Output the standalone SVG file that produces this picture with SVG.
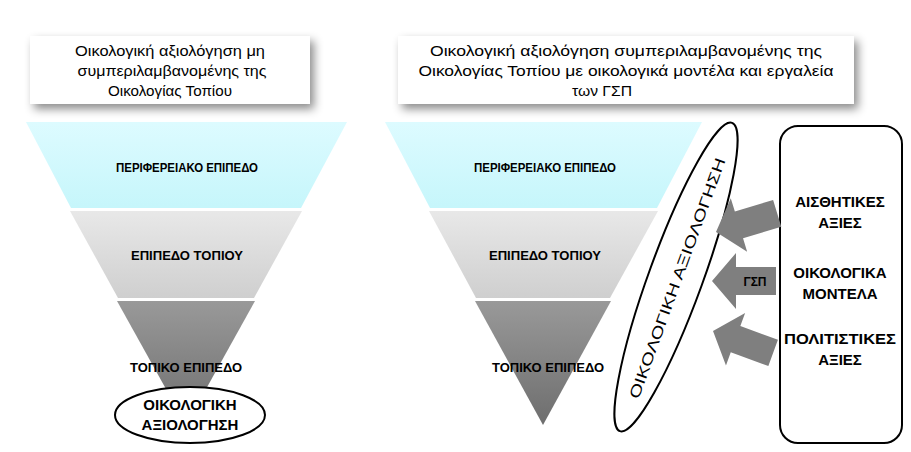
<svg xmlns="http://www.w3.org/2000/svg" width="911" height="452" viewBox="0 0 911 452">
<defs>
<linearGradient id="g1" x1="0" y1="0" x2="0" y2="1"><stop offset="0" stop-color="#ddfbff"/><stop offset="1" stop-color="#c6f6fb"/></linearGradient>
<linearGradient id="g2" x1="0" y1="0" x2="0" y2="1"><stop offset="0" stop-color="#e8e8e8"/><stop offset="1" stop-color="#cfcfcf"/></linearGradient>
<linearGradient id="g3" x1="0" y1="0" x2="0" y2="1"><stop offset="0" stop-color="#999"/><stop offset="1" stop-color="#6e6e6e"/></linearGradient>
<filter id="sh" x="-10%" y="-20%" width="130%" height="160%"><feDropShadow dx="4" dy="5" stdDeviation="5" flood-color="#000" flood-opacity="0.45"/></filter>
<g id="arrow"><polygon points="0,0 24,-28 24,-14 64,-14 64,14 24,14 24,28" fill="#7f7f7f"/></g>
</defs>
<style>
text{font-family:"Liberation Sans",Arial,sans-serif;fill:#000;text-anchor:middle}
.t{font-size:15px}
.b{font-size:13px;font-weight:bold}
.c{font-size:15px;font-weight:bold}
.box{fill:#fff;filter:url(#sh)}
.ln{fill:#fff;stroke:#000;stroke-width:2}
</style>
<rect width="911" height="452" fill="#fff"/>
<g id="box-left"><rect class="box" x="30" y="36" width="280" height="68"/>
<text class="t" x="170" y="56" textLength="190" lengthAdjust="spacingAndGlyphs">Οικολογική αξιολόγηση μη</text>
<text class="t" x="172" y="76" textLength="189" lengthAdjust="spacingAndGlyphs">συμπεριλαμβανομένης της</text>
<text class="t" x="170" y="96" textLength="124" lengthAdjust="spacingAndGlyphs">Οικολογίας Τοπίου</text></g>
<g id="box-right"><rect class="box" x="398" y="36" width="456" height="68"/>
<text class="t" x="626" y="56" textLength="392" lengthAdjust="spacingAndGlyphs">Οικολογική αξιολόγηση συμπεριλαμβανομένης της</text>
<text class="t" x="626" y="76" textLength="415" lengthAdjust="spacingAndGlyphs">Οικολογίας Τοπίου με οικολογικά μοντέλα και εργαλεία</text>
<text class="t" x="602" y="96" textLength="60" lengthAdjust="spacingAndGlyphs">των ΓΣΠ</text></g>
<g id="funnel-left">
<polygon points="26,122 347,122 301,208 71,208" fill="url(#g1)"/>
<polygon points="70,211 302,211 254,298 118,298" fill="url(#g2)"/>
<polygon points="117,301 255,301 186,425" fill="url(#g3)"/>
<text class="b" x="187" y="172" textLength="142" lengthAdjust="spacingAndGlyphs">ΠΕΡΙΦΕΡΕΙΑΚΟ ΕΠΙΠΕΔΟ</text>
<text class="b" x="187" y="260" textLength="112" lengthAdjust="spacingAndGlyphs">ΕΠΙΠΕΔΟ ΤΟΠΙΟΥ</text>
<text class="b" x="186" y="372" textLength="112" lengthAdjust="spacingAndGlyphs">ΤΟΠΙΚΟ ΕΠΙΠΕΔΟ</text></g>
<g id="eval-left"><ellipse class="ln" cx="190" cy="415" rx="75" ry="28"/>
<text class="c" x="190" y="410">ΟΙΚΟΛΟΓΙΚΗ</text>
<text class="c" x="190" y="430">ΑΞΙΟΛΟΓΗΣΗ</text></g>
<g id="funnel-right">
<polygon points="385,122 702,122 657,208 430,208" fill="url(#g1)"/>
<polygon points="429,211 658,211 610,298 476,298" fill="url(#g2)"/>
<polygon points="475,301 611,301 543,425" fill="url(#g3)"/>
<text class="b" x="545" y="172" textLength="142" lengthAdjust="spacingAndGlyphs">ΠΕΡΙΦΕΡΕΙΑΚΟ ΕΠΙΠΕΔΟ</text>
<text class="b" x="545" y="260" textLength="112" lengthAdjust="spacingAndGlyphs">ΕΠΙΠΕΔΟ ΤΟΠΙΟΥ</text>
<text class="b" x="548" y="372" textLength="112" lengthAdjust="spacingAndGlyphs">ΤΟΠΙΚΟ ΕΠΙΠΕΔΟ</text></g>
<g id="eval-right"><ellipse class="ln" cx="676" cy="277" rx="27" ry="164" transform="rotate(20 676 277)"/>
<text class="t" x="0" y="0" transform="translate(682 280) rotate(-70)" textLength="255" lengthAdjust="spacingAndGlyphs">ΟΙΚΟΛΟΓΙΚΗ ΑΞΙΟΛΟΓΗΣΗ</text></g>
<g id="factors"><rect class="ln" x="780" y="126" width="122" height="317" rx="18"/>
<text class="c" x="840" y="207">ΑΙΣΘΗΤΙΚΕΣ</text>
<text class="c" x="840" y="228">ΑΞΙΕΣ</text>
<text class="c" x="840" y="278">ΟΙΚΟΛΟΓΙΚΑ</text>
<text class="c" x="840" y="299">ΜΟΝΤΕΛΑ</text>
<text class="c" x="840" y="344" textLength="112" lengthAdjust="spacingAndGlyphs">ΠΟΛΙΤΙΣΤΙΚΕΣ</text>
<text class="c" x="840" y="365">ΑΞΙΕΣ</text></g>
<g id="connectors">
<use href="#arrow" transform="translate(716 232) rotate(-17)"/>
<use href="#arrow" transform="translate(712 281)"/>
<use href="#arrow" transform="translate(713 331) rotate(20)"/>
<text class="b" x="755" y="286" style="font-size:12px">ΓΣΠ</text>
</g>
</svg>
